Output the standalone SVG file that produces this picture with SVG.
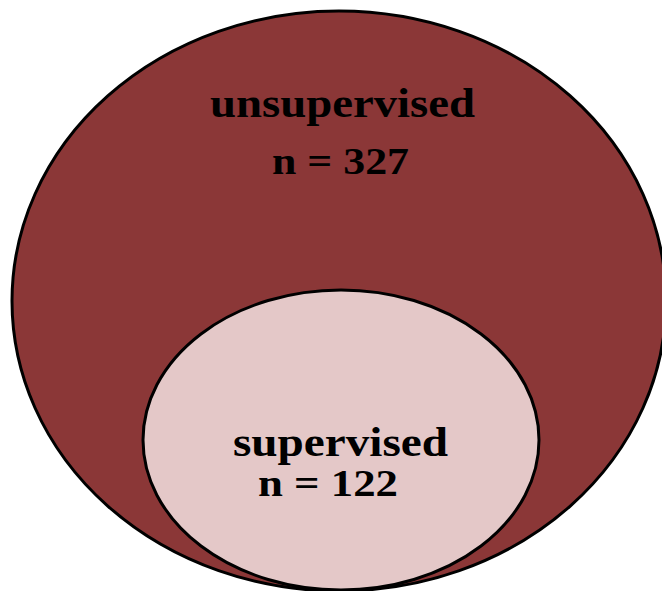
<svg xmlns="http://www.w3.org/2000/svg" width="662" height="591" viewBox="0 0 662 591">
<style>
.e{stroke:#000;stroke-width:3}
.t{font-family:"Liberation Serif","Times New Roman",serif;font-weight:bold;fill:#000}
</style>
<rect width="662" height="591" fill="#fff"/>
<g id="unsupervised">
<ellipse class="e" cx="339" cy="301" rx="327" ry="290" fill="#8B3737"/>
<text class="t" x="210" y="117" font-size="42" textLength="265" lengthAdjust="spacingAndGlyphs">unsupervised</text>
<text class="t" x="272" y="174" font-size="38" textLength="137" lengthAdjust="spacingAndGlyphs">n = 327</text>
</g>
<g id="supervised">
<ellipse class="e" cx="341" cy="440" rx="198" ry="150" fill="#E4C8C8"/>
<text class="t" x="233" y="456" font-size="42" textLength="215" lengthAdjust="spacingAndGlyphs">supervised</text>
<text class="t" x="258" y="496" font-size="38" textLength="140" lengthAdjust="spacingAndGlyphs">n = 122</text>
</g>
<g id="connectors"/>
</svg>
